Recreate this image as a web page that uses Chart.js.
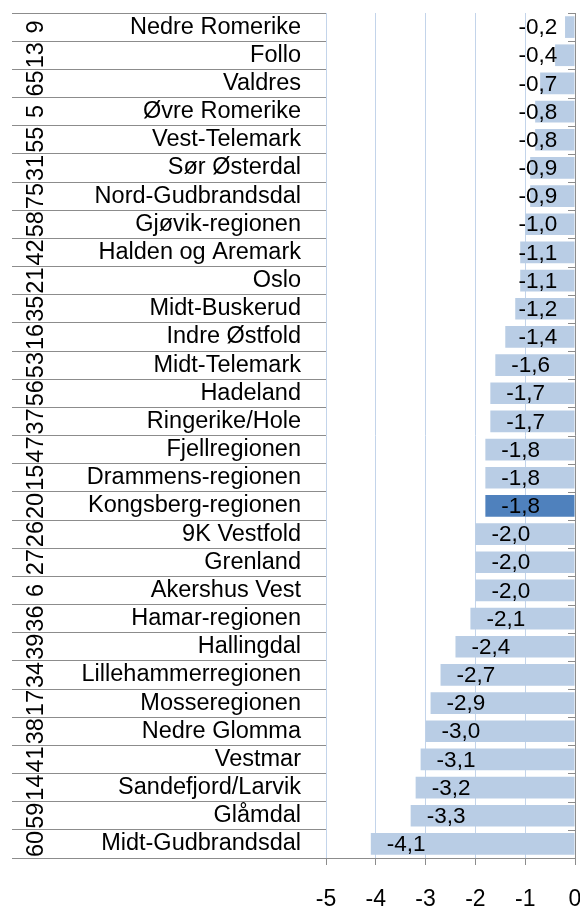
<!DOCTYPE html>
<html>
<head>
<meta charset="utf-8">
<script src="https://cdn.jsdelivr.net/npm/chart.js@4"></script>
<style>
html,body{margin:0;padding:0;background:#fff}
#wrap{width:580px;height:906px;position:relative}
</style>
</head>
<body>
<div id="wrap"><canvas id="c"></canvas></div>
<script>
const regions=['Nedre Romerike','Follo','Valdres','Øvre Romerike','Vest-Telemark','Sør Østerdal','Nord-Gudbrandsdal','Gjøvik-regionen','Halden og Aremark','Oslo','Midt-Buskerud','Indre Østfold','Midt-Telemark','Hadeland','Ringerike/Hole','Fjellregionen','Drammens-regionen','Kongsberg-regionen','9K Vestfold','Grenland','Akershus Vest','Hamar-regionen','Hallingdal','Lillehammerregionen','Mosseregionen','Nedre Glomma','Vestmar','Sandefjord/Larvik','Glåmdal','Midt-Gudbrandsdal']
const values=[-0.2,-0.4,-0.7,-0.8,-0.8,-0.9,-0.9,-1.0,-1.1,-1.1,-1.2,-1.4,-1.6,-1.7,-1.7,-1.8,-1.8,-1.8,-2.0,-2.0,-2.0,-2.1,-2.4,-2.7,-2.9,-3.0,-3.1,-3.2,-3.3,-4.1]
const codes=['9','13','65','5','55','31','75','58','42','21','35','16','53','56','37','47','15','20','26','27','6','36','39','34','17','38','41','14','59','60']
const highlight='Kongsberg-regionen'
const xMin=-5, xMax=0, xStep=1

const FONT='"Liberation Sans", Arial, sans-serif'
const gray='#8c8c8c'
const fmt=v=>v.toFixed(1).replace('.',',')

// outer rotated codes, axis line at 0, and value labels
const extras={
  id:'extras',
  afterDatasetsDraw(chart){
    const ctx=chart.ctx, xs=chart.scales.x, ys=chart.scales.y, area=chart.chartArea
    const x0=xs.getPixelForValue(0)
    const half=(ys.getPixelForValue(1)-ys.getPixelForValue(0))/2
    ctx.save()
    // category axis at zero
    ctx.strokeStyle=gray;ctx.lineWidth=1
    ctx.beginPath();ctx.moveTo(x0+0.5,area.top);ctx.lineTo(x0+0.5,area.bottom);ctx.stroke()
    for(let i=0;i<=regions.length;i++){
      const y=Math.round(ys.getPixelForValue(i)-half)+0.5
      ctx.beginPath();ctx.moveTo(x0-7,y);ctx.lineTo(x0,y);ctx.stroke()
    }
    // value labels
    ctx.fillStyle='#000';ctx.font='22.5px '+FONT;ctx.textAlign='center';ctx.textBaseline='middle'
    const meta=chart.getDatasetMeta(0)
    meta.data.forEach((bar,i)=>{
      const t=fmt(values[i]), w=ctx.measureText(t).width
      const cx=Math.min(bar.x+16+w/2,x0-37)
      ctx.fillText(t,cx,bar.y+1)
    })
    // rotated codes
    ctx.font='23.5px '+FONT
    codes.forEach((c,i)=>{
      ctx.save();ctx.translate(ys.left+37,ys.getPixelForValue(i));ctx.rotate(-Math.PI/2)
      ctx.fillText(c,0,0);ctx.restore()
    })
    ctx.restore()
  }
}

new Chart(document.getElementById('c'),{
  type:'bar',
  data:{labels:regions,datasets:[{
    data:values,
    backgroundColor:regions.map(r=>r===highlight?'#4f81bd':'#b9cde5'),
    borderWidth:0,
    categoryPercentage:1,
    barPercentage:0.77
  }]},
  options:{
    indexAxis:'y',
    responsive:true,
    maintainAspectRatio:false,
    animation:false,
    devicePixelRatio:1,
    layout:{padding:{top:13,right:5,left:0,bottom:0}},
    plugins:{legend:{display:false},tooltip:{enabled:false}},
    scales:{
      x:{
        min:xMin,max:xMax,
        ticks:{stepSize:xStep,color:'#000',font:{family:FONT,size:23},padding:21,callback:v=>String(v)},
        grid:{color:'#c3d4ea',tickColor:gray,tickLength:7,drawTicks:true},
        border:{display:true,color:gray},
        afterFit(s){s.height=48;s.paddingLeft=0;s.paddingRight=0}
      },
      y:{
        ticks:{color:'#000',font:{family:FONT,size:23.5},padding:-289,autoSkip:false},
        grid:{offset:true,drawOnChartArea:false,drawTicks:true,tickLength:314,color:gray},
        border:{display:false},
        afterFit(s){s.width=326;s.paddingTop=0;s.paddingBottom=0}
      }
    }
  },
  plugins:[extras]
})
</script>
</body>
</html>
